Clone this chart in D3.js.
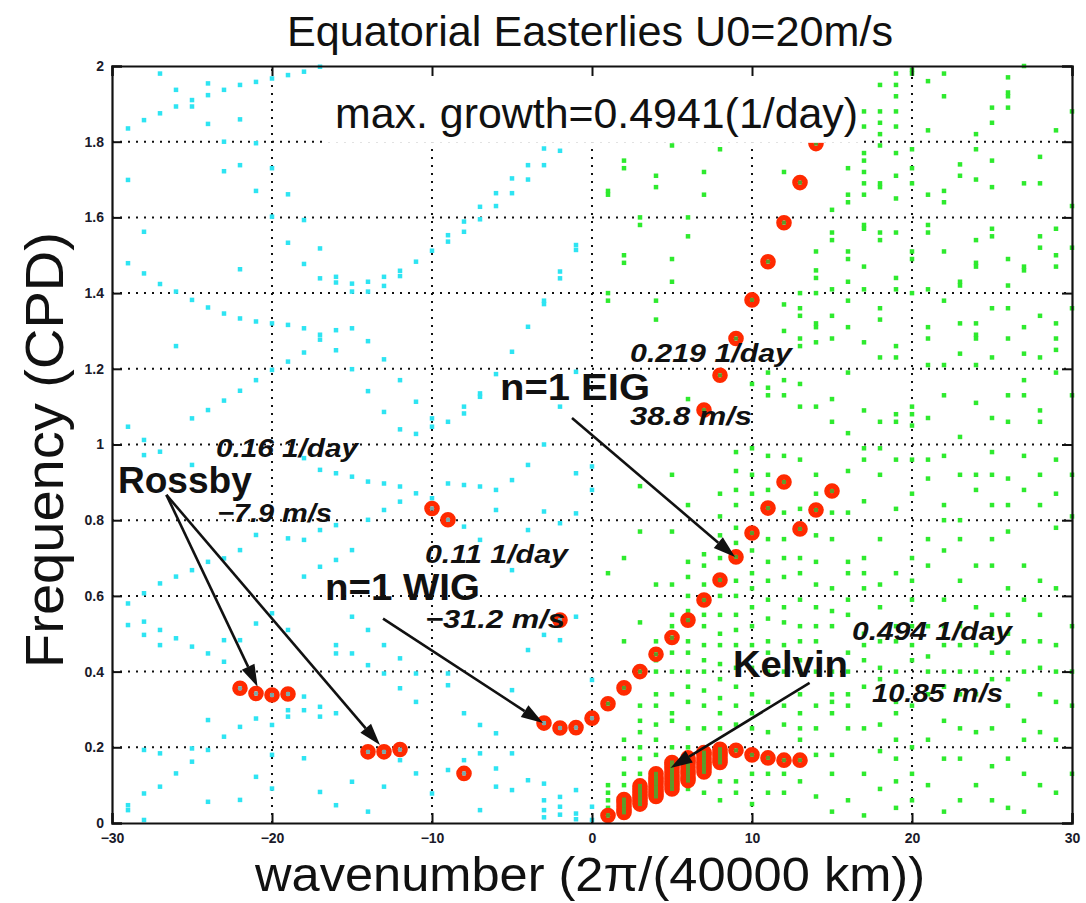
<!DOCTYPE html>
<html><head><meta charset="utf-8">
<script src="https://cdn.jsdelivr.net/npm/d3@7"></script>
<style>body{margin:0;background:#fff}text{font-family:"Liberation Sans",Arial,Helvetica,sans-serif}</style>
</head><body><svg id="c" width="1086" height="903"></svg>
<script>
// ---------- data ----------
const xTicks = [-30,-20,-10,0,10,20,30];
const yTicks = [0,0.2,0.4,0.6,0.8,1,1.2,1.4,1.6,1.8,2];
const gridX = [-20,-10,0,10,20];
const gridY = [0.2,0.4,0.6,0.8,1,1.2,1.4,1.6,1.8];

// westward (cyan) eigen-modes [wavenumber, frequency]
const cyanDots = [
[-29,1.835],[-29,1.699],[-29,1.479],[-29,1.047],[-28,1.857],[-28,1.562],[-28,1.452],[-28,1.012],
[-27,1.980],[-27,1.875],[-27,1.424],[-26,1.937],[-26,1.893],[-26,1.404],[-26,1.260],
[-25,1.910],[-25,1.893],[-25,1.382],[-25,1.069],[-24,1.954],[-24,1.923],[-24,1.847],[-24,1.362],[-24,1.091],
[-23,1.937],[-23,1.80],[-23,1.722],[-23,1.346],[-23,1.116],[-22,1.950],[-22,1.859],[-22,1.738],[-22,1.463],[-22,1.333],[-22,1.142],
[-21,1.958],[-21,1.796],[-21,1.670],[-21,1.325],[-21,1.17],[-20,1.967],[-20,1.730],[-20,1.602],[-20,1.320],[-20,1.197],
[-19,1.976],[-19,1.661],[-19,1.533],[-19,1.316],[-19,1.219],[-18,1.985],[-18,1.593],[-18,1.477],[-18,1.307],[-18,1.243],
[-17,1.998],[-17,1.518],[-17,1.439],[-17,1.290],[-17,1.277],[-16,1.443],[-16,1.428],[-16,1.302],[-16,1.249],
[-15,1.425],[-15,1.404],[-15,1.307],[-15,1.199],[-14,1.430],[-14,1.404],[-14,1.273],[-14,1.141],
[-13,1.443],[-13,1.419],[-13,1.225],[-13,1.086],[-12,1.459],[-12,1.445],[-12,1.170],[-12,1.040],
[-11,1.483],[-11,1.113],[-11,1.028],[-10,1.512],[-10,1.069],[-10,1.047],[-9,1.553],[-9,1.536],[-9,1.060],
[-8,1.589],[-8,1.562],[-8,1.100],[-8,1.082],[-7,1.628],[-7,1.595],[-7,1.135],[-7,1.126],
[-6,1.664],[-6,1.630],[-6,1.186],[-5,1.703],[-5,1.664],[-5,1.245],[-4,1.738],[-4,1.700],[-4,1.311],
[-3,1.782],[-3,1.738],[-3,1.380],[-3,1.371],[-3,1.0],[-2,1.776],[-2,1.457],[-2,1.439],[-2,1.100],[-1,1.527],[-1,1.514],[-1,1.192],
[-28,0.972],[-27,0.981],[-25,0.946],[-18,0.964],[-17,0.933],[-16,0.924],[-15,0.915],[-14,0.902],[-13,0.897],[-12,0.889],
[-11,0.871],[-10,0.858],[-9,0.897],[-8,0.893],[-7,0.889],[-6,0.880],[-5,0.906],[-4,0.946],[-1,0.924],[0,0.942],
[-12,0.849],[-13,0.827],[-14,0.801],[-16,0.787],[-17,0.774],[-18,0.748],[-19,0.752],[-21,0.761],[-22,0.721],[-23,0.699],
[-24,0.690],[-25,0.668],[-26,0.651],[-27,0.633],[-28,0.607],[-29,0.580],[-29,0.523],[-28,0.532],[-28,0.497],[-27,0.510],
[-27,0.470],[-26,0.488],[-25,0.466],[-24,0.448],[-23,0.483],[-23,0.426],[-22,0.483],[-21,0.527],[-20,0.554],[-19,0.510],
[-18,0.651],[-17,0.677],[-16,0.695],[-15,0.721],[-6,0.827],[-8,0.783],[-7,0.748],[-5,0.668],[-4,0.774],[-3,0.823],
[-2,0.792],[-1,0.818],[0,0.880],[-16,0.470],[-16,0.448],[-15,0.545],[-15,0.448],[-14,0.510],[-14,0.417],[-13,0.470],
[-12,0.435],[-11,0.395],[-11,0.320],[-12,0.356],[-13,0.395],[-9,0.395],[-9,0.364],[-8,0.290],[-7,0.259],[-6,0.237],
[-5,0.351],[-4,0.457],[-3,0.497],[-2,0.483],[-1,0.545],[0,0.378],[-18,0.334],[-18,0.298],[-17,0.307],[-17,0.281],
[-16,0.290],[-19,0.298],[-19,0.281],[-20,0.259],[-21,0.276],[-22,0.254],[-23,0.228],[-24,0.193],[-25,0.162],[-26,0.131],
[-27,0.096],[-28,0.078],[-29,0.047],[-29,0.034],[-28,0.008],[-28,0.193],[-27,0.184],[-25,0.197],[-24,0.272],[-21,0.122],
[-20,0.180],[-20,0.091],[-22,0.061],[-24,0.056],[-18,0.171],[-17,0.082],[-16,0.047],[-15,0.109],[-14,0.030],[-13,0.096],
[-12,0.166],[-11,0.131],[-10,0.078],[-9,0.140],[-8,0.166],[-7,0.184],[-6,0.096],[-5,0.184],[-4,0.113],[-3,0.104],
[-3,0.060],[-3,0.034],[-2,0.069],[-2,0.043],[-1,0.087],[-1,0.025],[0,0.043],[-6,0.144],[-5,0.087],[-7,0.034],
[-3,0.015],[-2,0.022],[-1,0.010],[0,0.008]
];

// eastward (green) eigen-modes, upper half [wavenumber, frequency]
const greenUpper = [
[2,1.98],[3,1.98],[5,1.97],[5,1.96],[9,1.96],[18,1.95],[19,1.98],[19,1.95],[20,1.99],[20,1.98],[22,1.98],[21,1.96],[26,1.97],[26,1.93],[26,1.92],[26,1.89],[27,2.0],[22,1.92],[25,1.89],[25,1.85],[24,1.82],[21,1.83],[19,1.92],[19,1.88],[19,1.84],[18,1.88],[18,1.85],[18,1.82],[17,1.88],[17,1.84],[29,1.83],[30,1.88],
[5,1.79],[8,1.78],[2,1.75],[2,1.73],[4,1.71],[4,1.68],[7,1.72],[7,1.66],[1,1.67],[1,1.66],[12,1.72],[16,1.73],[17,1.77],[17,1.75],[17,1.72],[17,1.69],[17,1.66],[18,1.79],[18,1.69],[18,1.68],[19,1.77],[19,1.71],[19,1.65],[20,1.78],[20,1.73],[20,1.69],[21,1.66],[22,1.67],[22,1.64],[23,1.74],[23,1.71],[24,1.78],[24,1.70],[25,1.75],[25,1.68],[27,1.69],[28,1.76],[28,1.69],[30,1.63],[16,1.66],[16,1.64],[15,1.62],
[3,1.60],[3,1.58],[6,1.60],[6,1.55],[2,1.50],[2,1.48],[5,1.49],[5,1.43],[1,1.40],[1,1.38],[4,1.38],[4,1.33],[14,1.51],[14,1.46],[14,1.44],[15,1.56],[15,1.54],[16,1.51],[16,1.49],[16,1.43],[17,1.58],[17,1.57],[17,1.47],[18,1.56],[18,1.54],[19,1.56],[19,1.44],[20,1.49],[20,1.51],[21,1.58],[21,1.56],[22,1.51],[23,1.43],[23,1.42],[24,1.54],[24,1.48],[24,1.47],[25,1.57],[25,1.55],[26,1.49],[27,1.47],[27,1.46],[28,1.55],[28,1.52],[29,1.57],[29,1.50],[29,1.47],[30,1.52],[26,1.42],
[12,1.37],[13,1.40],[13,1.36],[13,1.34],[14,1.40],[14,1.32],[14,1.31],[15,1.41],[15,1.34],[16,1.38],[16,1.31],[17,1.41],[17,1.27],[18,1.36],[18,1.33],[19,1.41],[19,1.26],[20,1.40],[21,1.41],[21,1.31],[21,1.28],[22,1.38],[23,1.32],[23,1.24],[24,1.32],[24,1.29],[24,1.28],[25,1.36],[26,1.36],[26,1.28],[27,1.31],[28,1.34],[29,1.32],[29,1.28],[30,1.36],[12,1.30],[13,1.28],[13,1.26],[14,1.27],[15,1.28],[18,1.23],[19,1.23],
[11,1.19],[11,1.15],[11,1.13],[12,1.17],[12,1.13],[13,1.16],[13,1.10],[14,1.10],[15,1.12],[15,1.06],[16,1.19],[16,1.03],[17,1.09],[18,1.06],[19,1.08],[19,1.06],[20,1.10],[20,1.08],[20,1.05],[21,1.07],[22,1.13],[23,1.02],[24,1.11],[25,1.07],[26,1.13],[26,1.06],[27,1.17],[27,1.13],[28,1.09],[28,1.06],[29,1.19],[30,1.13],[21,1.21],[22,1.21],[24,1.21],[25,1.23],[28,1.23],[29,1.25],[27,1.24],[10,1.16],[6,1.12]
];

// eastward (green) eigen-modes, lower half: [wavenumber, frequencies]
const greenLower = [
[1,[0.02,0.04,0.06,0.08,0.10,0.66]],
[2,[0.06,0.10,0.13,0.17,0.22,0.48,0.70]],
[3,[0.13,0.17,0.20,0.24,0.27,0.31,0.53,0.77,0.89]],
[4,[0.18,0.22,0.26,0.31,0.34,0.40,0.43,0.48,0.63]],
[5,[0.08,0.12,0.20,0.27,0.29,0.34,0.40,0.45,0.48,0.52,0.55,0.63,0.77,0.92]],
[6,[0.09,0.13,0.20,0.25,0.32,0.36,0.40,0.45,0.48,0.53,0.56,0.60,0.65,0.69,0.84]],
[7,[0.08,0.13,0.18,0.25,0.31,0.35,0.40,0.43,0.47,0.52,0.55,0.60,0.63,0.68,0.71]],
[8,[0.06,0.11,0.25,0.29,0.33,0.38,0.42,0.47,0.50,0.55,0.60,0.70,0.76,0.81,0.87]],
[9,[0.08,0.11,0.26,0.31,0.36,0.41,0.47,0.51,0.55,0.60,0.64,0.74,0.78,0.84,0.88,0.93,0.98]],
[10,[0.05,0.13,0.25,0.29,0.34,0.41,0.47,0.52,0.57,0.62,0.66,0.72,0.87,0.92,0.99]],
[11,[0.08,0.13,0.24,0.32,0.40,0.45,0.48,0.54,0.59,0.64,0.69,0.75,0.88,0.92,0.97]],
[12,[0.08,0.13,0.26,0.31,0.40,0.47,0.53,0.57,0.65,0.70,0.75,0.82,0.97]],
[13,[0.11,0.22,0.25,0.29,0.34,0.40,0.43,0.48,0.52,0.59,0.66,0.70,0.83,0.96]],
[14,[0.07,0.18,0.25,0.31,0.40,0.48,0.52,0.57,0.63,0.69,0.76,0.87,0.92]],
[15,[0.03,0.13,0.18,0.29,0.32,0.34,0.40,0.52,0.56,0.62,0.75,0.82,0.89]],
[16,[0.06,0.25,0.31,0.34,0.40,0.45,0.55,0.59,0.66,0.69,0.82,0.93]],
[17,[0.02,0.13,0.25,0.36,0.43,0.47,0.50,0.62,0.66,0.70,0.85,0.96,0.99]],
[18,[0.09,0.19,0.26,0.38,0.41,0.48,0.57,0.63,0.75,0.92,0.99]],
[19,[0.04,0.11,0.17,0.22,0.29,0.32,0.40,0.48,0.52,0.66,0.83,0.96]],
[20,[0.06,0.13,0.20,0.31,0.43,0.47,0.52,0.59,0.64,0.70,0.87,0.96]],
[21,[0.10,0.22,0.34,0.40,0.44,0.52,0.68,0.75,0.91,0.96]],
[22,[0.03,0.17,0.27,0.36,0.40,0.47,0.52,0.59,0.72,0.80,0.84,0.97]],
[23,[0.06,0.17,0.25,0.34,0.40,0.47,0.52,0.64,0.75,0.80,0.92]],
[24,[0.10,0.24,0.34,0.40,0.47,0.57,0.68,0.88,0.92]],
[25,[0.06,0.15,0.25,0.38,0.45,0.50,0.55,0.68,0.75,0.84,0.92,0.98]],
[26,[0.04,0.17,0.31,0.38,0.45,0.50,0.55,0.62,0.77,0.84,0.91]],
[27,[0.03,0.13,0.22,0.27,0.40,0.48,0.59,0.68,0.88,0.97]],
[28,[0.10,0.24,0.34,0.41,0.48,0.55,0.64,0.84,0.92]],
[29,[0.08,0.22,0.32,0.40,0.47,0.62,0.78,0.87,0.96]],
[30,[0.13,0.31,0.40,0.52,0.81,0.92]]
];

// unstable modes (red circles) [wavenumber, frequency]
const unstableModes = [
[-22,0.356],[-21,0.342],[-20,0.338],[-19,0.341],[-14,0.188],[-13,0.188],[-12,0.194],
[-10,0.831],[-9,0.801],[-8,0.131],[-2,0.536],
[-3,0.264],[-2,0.251],[-1,0.252],[0,0.277],[1,0.315],[2,0.357],[3,0.40],[4,0.446],[5,0.49],[6,0.536],
[7,0.589],[8,0.642],[9,0.703],[10,0.766],[11,0.832],[12,0.901],[13,0.777],[14,0.827],[15,0.877],
[7,1.091],[8,1.183],[9,1.280],[10,1.382],[11,1.483],[12,1.586],[13,1.692],[14,1.795],
[1,0.020],[2,0.028],[2,0.036],[2,0.045],[2,0.054],[2,0.062],
[3,0.050],[3,0.058],[3,0.066],[3,0.074],[3,0.082],[3,0.090],[3,0.098],
[4,0.070],[4,0.078],[4,0.087],[4,0.095],[4,0.104],[4,0.112],[4,0.121],[4,0.130],
[5,0.090],[5,0.099],[5,0.108],[5,0.117],[5,0.126],[5,0.135],[5,0.144],[5,0.153],[5,0.160],
[6,0.112],[6,0.121],[6,0.130],[6,0.139],[6,0.148],[6,0.157],[6,0.166],[6,0.172],
[7,0.135],[7,0.144],[7,0.153],[7,0.162],[7,0.171],[7,0.180],[7,0.186],
[8,0.160],[8,0.169],[8,0.178],[8,0.187],[8,0.195],[9,0.192],
[10,0.180],[11,0.172],[12,0.166],[13,0.166]
];

// annotations (anchor in data coordinates)
const labels = [
 {t:"Rossby", k:-29.63, f:0.872, w:134, kind:"big"},
 {t:"n=1 WIG", k:-16.69, f:0.589, w:155, kind:"big"},
 {t:"n=1 EIG", k:-5.75, f:1.118, w:150, kind:"big"},
 {t:"Kelvin", k:8.81, f:0.386, w:115, kind:"big"},
 {t:"0.16 1/day", k:-23.5, f:0.967, w:142, kind:"it"},
 {t:"\u22127.9 m/s", k:-23.44, f:0.795, w:115, kind:"it"},
 {t:"0.11 1/day", k:-10.44, f:0.687, w:143, kind:"it"},
 {t:"\u221231.2 m/s", k:-10.44, f:0.515, w:140, kind:"it"},
 {t:"0.219 1/day", k:2.375, f:1.218, w:162, kind:"it"},
 {t:"38.8 m/s", k:2.375, f:1.052, w:122, kind:"it"},
 {t:"0.494 1/day", k:16.25, f:0.483, w:160, kind:"it"},
 {t:"10.85 m/s", k:17.5, f:0.320, w:131, kind:"it"}
];
const arrows = [
 {from:[-26.6,0.867], to:[-20.9,0.360]},
 {from:[-26.6,0.867], to:[-13.25,0.206]},
 {from:[-13.06,0.540], to:[-3.06,0.264]},
 {from:[-1.25,1.070], to:[8.94,0.703]},
 {from:[13.6,0.370], to:[4.9,0.145]}
];

// ---------- drawing ----------
const svg = d3.select("#c");
svg.append("rect").attr("width",1086).attr("height",903).attr("fill","#fff");
const x = d3.scaleLinear().domain([-30,30]).range([112,1072]);
const y = d3.scaleLinear().domain([0,2]).range([823,66]);

// grid
const g = svg.append("g");
g.selectAll(".gx").data(gridX).join("line")
 .attr("x1",d=>x(d)).attr("x2",d=>x(d)).attr("y1",y(0)).attr("y2",y(2))
 .attr("stroke","#111").attr("stroke-width",2).attr("stroke-dasharray","2,6");
g.selectAll(".gy").data(gridY).join("line")
 .attr("y1",d=>y(d)).attr("y2",d=>y(d)).attr("x1",x(-30)).attr("x2",x(30))
 .attr("stroke","#111").attr("stroke-width",2).attr("stroke-dasharray","2,6");

// dots
const greenAll = greenUpper.concat(greenLower.flatMap(([k,fs])=>fs.map(f=>[k,f])));
svg.append("g").selectAll("rect").data(cyanDots).join("rect")
 .attr("x",d=>x(d[0])-2.25).attr("y",d=>y(d[1])-2.25).attr("width",4.5).attr("height",4.5).attr("fill","#2ee4f2");
svg.append("g").selectAll("rect").data(greenAll).join("rect")
 .attr("x",d=>x(d[0])-2.25).attr("y",d=>y(d[1])-2.25).attr("width",4.5).attr("height",4.5).attr("fill","#2eea2e");

// red circles
const rg = svg.append("g");
rg.selectAll("circle").data(unstableModes).join("circle")
 .attr("cx",d=>x(d[0])).attr("cy",d=>y(d[1])).attr("r",5)
 .attr("fill","none").attr("stroke","#ff2a00").attr("stroke-width",5.6);
rg.selectAll("rect").data(unstableModes).join("rect")
 .attr("x",d=>x(d[0])-2).attr("y",d=>y(d[1])-2).attr("width",4).attr("height",4)
 .attr("fill",d=>d[0]>0?"#5f9a2a":"#7aa8a8");

// white text background for max growth
svg.append("rect").attr("x",x(-16.75)).attr("y",y(2)).attr("width",x(16.75)-x(-16.75)).attr("height",y(1.797)-y(2)).attr("fill","#fff");

// frame and ticks
const ax = svg.append("g");
ax.append("g").attr("transform",`translate(0,${y(0)})`)
 .call(d3.axisBottom(x).tickValues(xTicks).tickSize(-10).tickPadding(10).tickFormat(d=>d<0?"\u2212"+(-d):d));
ax.append("g").attr("transform",`translate(0,${y(2)})`)
 .call(d3.axisTop(x).tickValues(xTicks).tickSize(-10).tickFormat(""));
ax.append("g").attr("transform",`translate(${x(-30)},0)`)
 .call(d3.axisLeft(y).tickValues(yTicks).tickSize(-10).tickPadding(8).tickFormat(d=>d));
ax.append("g").attr("transform",`translate(${x(30)},0)`)
 .call(d3.axisRight(y).tickValues(yTicks).tickSize(-10).tickFormat(""));
ax.selectAll(".domain").attr("stroke","#111").attr("stroke-width",2.2);
ax.selectAll(".tick line").attr("stroke","#111").attr("stroke-width",2);
ax.selectAll(".tick text").attr("font-family","Liberation Sans, Arial, sans-serif")
 .attr("font-size",14).attr("font-weight","bold").attr("fill","#1a1a2a");

// title and axis labels
svg.append("text").attr("x",590).attr("y",46).attr("text-anchor","middle")
 .attr("font-size",43).attr("textLength",606).attr("lengthAdjust","spacingAndGlyphs")
 .attr("fill","#111").text("Equatorial Easterlies U0=20m/s");
svg.append("text").attr("x",x(-16.06)).attr("y",y(1.836))
 .attr("font-size",43).attr("textLength",523).attr("lengthAdjust","spacingAndGlyphs")
 .attr("fill","#111").text("max. growth=0.4941(1/day)");
svg.append("text").attr("transform","translate(63,450) rotate(-90)").attr("text-anchor","middle")
 .attr("font-size",54).attr("textLength",436).attr("lengthAdjust","spacingAndGlyphs")
 .attr("fill","#111").text("Frequency (CPD)");
svg.append("text").attr("x",590).attr("y",891).attr("text-anchor","middle")
 .attr("font-size",49).attr("textLength",670).attr("lengthAdjust","spacingAndGlyphs")
 .attr("fill","#111").text("wavenumber (2\u03c0/(40000 km))");

// annotation labels
svg.append("g").selectAll("text").data(labels).join("text")
 .attr("x",d=>x(d.k)).attr("y",d=>y(d.f))
 .attr("font-size",d=>d.kind==="big"?36:26)
 .attr("font-weight","bold")
 .attr("font-style",d=>d.kind==="big"?"normal":"italic")
 .attr("textLength",d=>d.w).attr("lengthAdjust","spacingAndGlyphs")
 .attr("fill","#111").text(d=>d.t);

// arrows
const ag = svg.append("g");
arrows.forEach(a=>{
  const x0=x(a.from[0]), y0=y(a.from[1]), x1=x(a.to[0]), y1=y(a.to[1]);
  const ang=Math.atan2(y1-y0,x1-x0), L=22, W=7;
  const bx=x1-L*Math.cos(ang), by=y1-L*Math.sin(ang);
  ag.append("line").attr("x1",x0).attr("y1",y0).attr("x2",bx).attr("y2",by)
    .attr("stroke","#111").attr("stroke-width",2.6);
  const px=-Math.sin(ang)*W, py=Math.cos(ang)*W;
  ag.append("path").attr("d",`M${x1},${y1}L${bx+px},${by+py}L${bx-px},${by-py}Z`).attr("fill","#111");
});
</script></body></html>
